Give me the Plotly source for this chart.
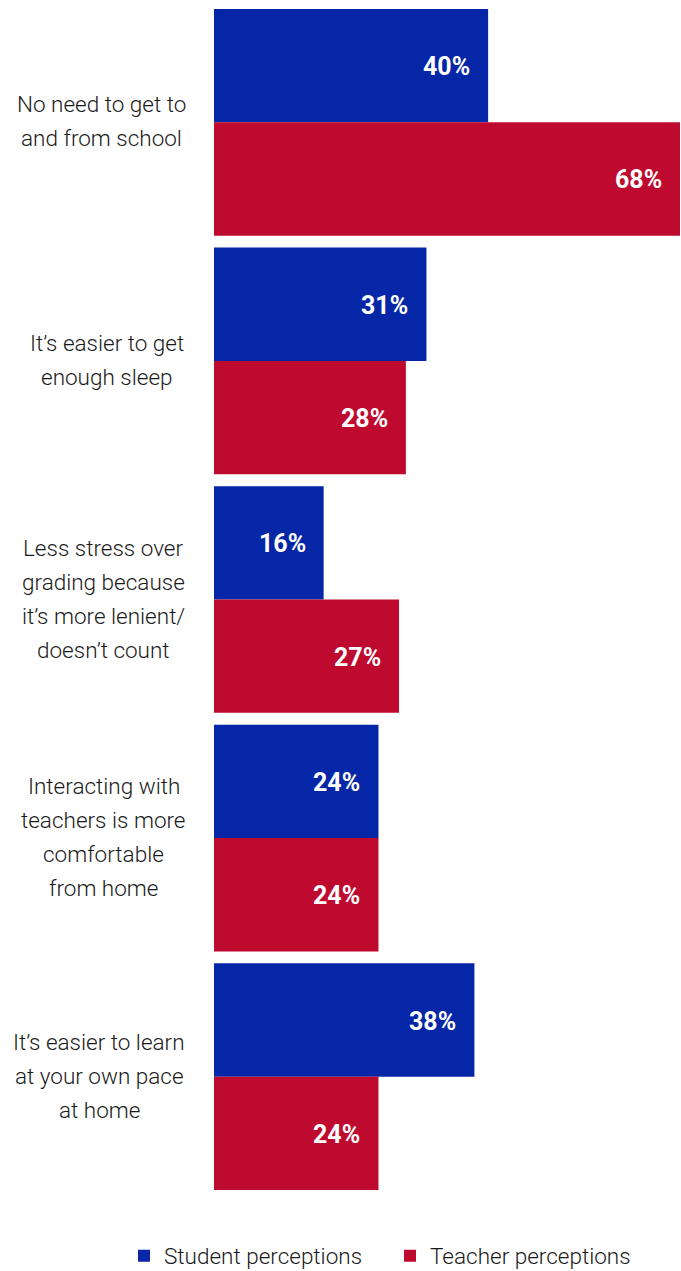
import plotly.graph_objects as go

categories = [
    ["No need to get to", "and from school"],
    ["It’s easier to get", "enough sleep"],
    ["Less stress over", "grading because", "it’s more lenient/", "doesn’t count"],
    ["Interacting with", "teachers is more", "comfortable", "from home"],
    ["It’s easier to learn", "at your own pace", "at home"],
]
student = [40, 31, 16, 24, 38]
teacher = [68, 28, 27, 24, 24]
series_names = ["Student perceptions", "Teacher perceptions"]
colors = ["#0626A8", "#BF0A30"]

# layout helpers (pixel centres of the left-hand label blocks, line spacing)
label_center_px = [101, 107, 103, 103.5, 99]
line_px = 34
plot_left = 214
W, H = 681, 1271
legend_left_px = [124, 390]

FONT = "Roboto, Arial, sans-serif"
bargap = 0.05
idx = list(range(len(categories)))
legend_ids = ["legend", "legend2"]

fig = go.Figure()
for name, vals, col, lg in zip(series_names, [student, teacher], colors, legend_ids):
    fig.add_trace(go.Bar(
        y=idx, x=vals, name=name, orientation="h",
        marker=dict(color=col, line=dict(width=0)),
        hoverinfo="skip", legend=lg,
    ))

annotations = []
off = (1 - bargap) / 4
for i in idx:
    lines = categories[i]
    n = len(lines)
    for k, line in enumerate(lines):
        annotations.append(dict(
            x=0, xref="paper", y=i, yref="y", text=line,
            xanchor="center", yanchor="middle", align="center",
            xshift=label_center_px[i] - plot_left,
            yshift=-(k - (n - 1) / 2) * line_px + 1,
            showarrow=False,
            font=dict(family=FONT, size=22.5, color="#1a1a1a", weight=300),
        ))
    for vals, sgn in [(student, -1), (teacher, 1)]:
        annotations.append(dict(
            x=vals[i], xref="x", y=i + sgn * off, yref="y",
            text=f"{vals[i]}%", xanchor="right", yanchor="middle",
            xshift=-16, yshift=-1, showarrow=False,
            font=dict(family=FONT, size=25, color="white", weight=700),
        ))

legend_style = dict(
    orientation="h", xref="container", yref="container",
    xanchor="left", y=1 - 1256 / H, yanchor="middle",
    font=dict(family=FONT, size=22.5, color="#1a1a1a", weight=300),
    bgcolor="rgba(0,0,0,0)",
)

fig.update_layout(
    width=W, height=H,
    margin=dict(l=plot_left, r=1, t=3, b=75, autoexpand=False),
    barmode="group", bargap=bargap, bargroupgap=0,
    plot_bgcolor="white", paper_bgcolor="white",
    xaxis=dict(range=[0, max(teacher)], visible=False, fixedrange=True),
    yaxis=dict(autorange="reversed", showticklabels=False, showgrid=False,
               zeroline=False, showline=False, ticks=""),
    annotations=annotations,
    showlegend=True,
    legend=dict(x=legend_left_px[0] / W, **legend_style),
    legend2=dict(x=legend_left_px[1] / W, **legend_style),
    font=dict(family=FONT),
)

fig.write_html("out.html")
